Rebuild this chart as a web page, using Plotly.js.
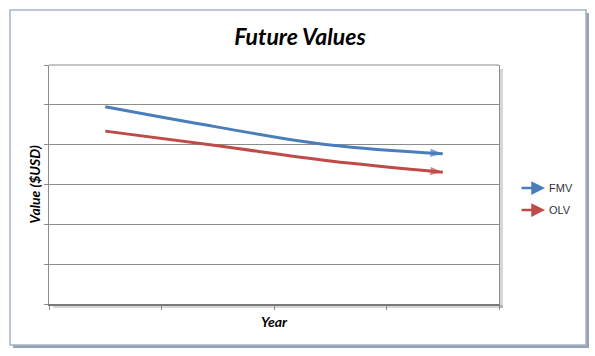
<!DOCTYPE html>
<html>
<head>
<meta charset="utf-8">
<script src="https://cdn.plot.ly/plotly-3.0.1.min.js"></script>
<style>
html,body{margin:0;padding:0;background:#fff;}
#chart{width:595px;height:356px;}
</style>
</head>
<body>
<div id="chart"></div>
<script>
// Data: four year categories (no labels shown), values in axis units
var categories = ['Year 1', 'Year 2', 'Year 3', 'Year 4'];
var fmv = [49.5, 44.4, 39.9, 37.7];
var olv = [43.4, 39.7, 35.9, 33.1];
var seriesNames = ['FMV', 'OLV'];
var yTicks = [0, 10, 20, 30, 40, 50, 60];

var blue = '#4A7EBB';
var red = '#BE4B48';
var grid = '#8C8C8C';

function arrowSizes(n){ var s=[]; for(var i=0;i<n;i++){ s.push(i===n-1?13:0);} return s; }

var traces = [
  {x: categories, y: fmv, name: seriesNames[0], type: 'scatter', mode: 'lines+markers',
   line: {color: blue, width: 3, shape: 'spline', smoothing: 1},
   marker: {symbol: 'arrow', angleref: 'previous', size: arrowSizes(categories.length), color: blue, line: {width: 0}},
   cliponaxis: false, showlegend: false, hoverinfo: 'skip'},
  {x: categories, y: olv, name: seriesNames[1], type: 'scatter', mode: 'lines+markers',
   line: {color: red, width: 3, shape: 'spline', smoothing: 1},
   marker: {symbol: 'arrow', angleref: 'previous', size: arrowSizes(categories.length), color: red, line: {width: 0}},
   cliponaxis: false, showlegend: false, hoverinfo: 'skip'}
];

var pl = 49, pr = 499, pt = 65, pb = 304;
var pw = pr - pl, ph = pb - pt;
function px(x){ return (x - pl) / pw; }
function py(y){ return (pb - y) / ph; }

var titleFont = 'Lato, "Open Sans", sans-serif';
var legendFont = {family: '"Liberation Sans", Arial, sans-serif', size: 11, color: '#333'};

var layout = {
  width: 595, height: 356,
  margin: {l: pl, r: 595 - pr, t: pt, b: 356 - pb, pad: 0},
  paper_bgcolor: '#ffffff', plot_bgcolor: '#ffffff',
  showlegend: false,
  title: {text: '<b><i>Future Values</i></b>', x: 300/595, xanchor: 'center', y: 1 - 37/356, yanchor: 'middle',
          font: {family: titleFont, size: 23, color: '#000'}},
  xaxis: {type: 'category', range: [-0.5, 3.5], tickmode: 'array', tickvals: [-0.5, 0.5, 1.5, 2.5, 3.5], showticklabels: false,
          ticks: 'outside', ticklen: 4, tickcolor: grid,
          showgrid: false, zeroline: false, showline: true, linecolor: '#7A7A7A', linewidth: 2,
          title: {text: '<b><i>Year</i></b>', standoff: 8, font: {family: titleFont, size: 14, color: '#000'}}},
  yaxis: {range: [0, 60], tickvals: yTicks, showticklabels: false, ticks: 'outside', ticklen: 4, tickcolor: grid,
          showgrid: true, gridcolor: grid, gridwidth: 1, zeroline: false, showline: true, mirror: true, linecolor: grid, linewidth: 1,
          title: {text: '<b><i>Value ($USD)</i></b>', standoff: 0, font: {family: titleFont, size: 14, color: '#000'}}},
  shapes: [
    // outer chart frame shadow + frame
    {type: 'rect', xref: 'paper', yref: 'paper', x0: px(13), x1: px(589), y0: py(13), y1: py(348),
     line: {width: 0}, fillcolor: 'rgba(70,85,110,0.55)', layer: 'below'},
    {type: 'rect', xref: 'paper', yref: 'paper', x0: px(10), x1: px(586), y0: py(10), y1: py(345),
     line: {width: 1.5, color: '#A3B3CB'}, fillcolor: '#ffffff', layer: 'below'},
    // plot area shadow
    {type: 'rect', xref: 'paper', yref: 'paper', x0: px(pr), x1: px(pr + 4), y0: py(pb + 4), y1: py(pt + 4),
     line: {width: 0}, fillcolor: 'rgba(0,0,0,0.16)', layer: 'below'},
    {type: 'rect', xref: 'paper', yref: 'paper', x0: px(pl + 4), x1: px(pr + 4), y0: py(pb + 4), y1: py(pb + 1),
     line: {width: 0}, fillcolor: 'rgba(0,0,0,0.16)', layer: 'below'},
    // top border of plot area (top gridline)
    {type: 'line', xref: 'paper', yref: 'paper', x0: 0, x1: 1, y0: 1, y1: 1, line: {width: 1, color: grid}}
  ],
  annotations: [
    // legend
    {xref: 'paper', yref: 'paper', x: px(545), y: py(188), ax: -25, ay: 0, showarrow: true, arrowhead: 2, arrowsize: 1.1, arrowwidth: 2.5, arrowcolor: blue, text: ''},
    {xref: 'paper', yref: 'paper', x: px(547), y: py(188), xanchor: 'left', yanchor: 'middle', showarrow: false, text: seriesNames[0], font: legendFont},
    {xref: 'paper', yref: 'paper', x: px(545), y: py(210), ax: -25, ay: 0, showarrow: true, arrowhead: 2, arrowsize: 1.1, arrowwidth: 2.5, arrowcolor: red, text: ''},
    {xref: 'paper', yref: 'paper', x: px(547), y: py(210), xanchor: 'left', yanchor: 'middle', showarrow: false, text: seriesNames[1], font: legendFont}
  ]
};

Plotly.newPlot('chart', traces, layout, {staticPlot: true, displayModeBar: false});
</script>
</body>
</html>
